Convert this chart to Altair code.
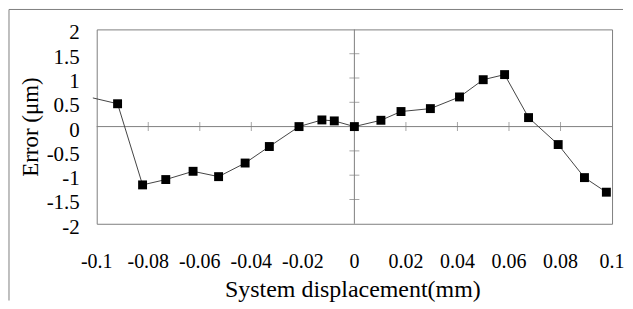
import altair as alt
import pandas as pd

# data
disp = [-0.0919, -0.0822, -0.0732, -0.0626, -0.0527, -0.0424, -0.0330, -0.0215,
        -0.0126, -0.0078, 0.0, 0.0103, 0.0181, 0.0295, 0.0408, 0.0500, 0.0583,
        0.0676, 0.0791, 0.0893, 0.0978]
err = [0.47, -1.20, -1.09, -0.92, -1.03, -0.75, -0.41, 0.0,
       0.137, 0.117, 0.0, 0.13, 0.31, 0.37, 0.61, 0.965, 1.07,
       0.185, -0.37, -1.05, -1.35]
# the line continues out of the plot on the left
lead_x = [-0.1015]
lead_y = [0.59]

x_ticks = [-0.1, -0.08, -0.06, -0.04, -0.02, 0, 0.02, 0.04, 0.06, 0.08, 0.1]
x_labels = ["-0.1", "-0.08", "-0.06", "-0.04", "-0.02", "0", "0.02", "0.04",
            "0.06", "0.08", "0.1"]
y_ticks = [-2, -1.5, -1, -0.5, 0, 0.5, 1, 1.5, 2]
y_labels = ["-2", "-1.5", "-1", "-0.5", "0", "0.5", "1", "1.5", "2"]
x_inner = [-0.08, -0.06, -0.04, -0.02, 0.02, 0.04, 0.06, 0.08]
y_inner = [-1.5, -1, -0.5, 0.5, 1, 1.5]
x_title = "System displacement(mm)"
y_title = "Error (μm)"

pts = pd.DataFrame({"x": disp, "y": err})
line_df = pd.DataFrame({"x": lead_x + disp, "y": lead_y + err})
xt = pd.DataFrame({"x": x_inner, "y": [0] * len(x_inner)})
yt = pd.DataFrame({"x": [0] * len(y_inner), "y": y_inner})
xl = pd.DataFrame({"x": x_ticks, "t": x_labels})
yl = pd.DataFrame({"y": y_ticks, "t": y_labels})
zero = pd.DataFrame({"z": [0]})

FONT = "Liberation Serif"
GRAY = "#808080"

xs = alt.Scale(domain=[-0.1, 0.1], nice=False, zero=False)
ys = alt.Scale(domain=[-2, 2], nice=False, zero=False)
X = lambda f: alt.X(f, scale=xs, axis=None)
Y = lambda f: alt.Y(f, scale=ys, axis=None)

line = alt.Chart(line_df).mark_line(color="#444444", strokeWidth=1).encode(
    x=X("x:Q"), y=Y("y:Q"), order=alt.Order("x:Q"))
points = alt.Chart(pts).mark_point(shape="square", filled=True, color="black",
                                   size=80, opacity=1).encode(
    x=X("x:Q"), y=Y("y:Q"))

hrule = alt.Chart(zero).mark_rule(color=GRAY, strokeWidth=1).encode(y=Y("z:Q"))
vrule = alt.Chart(zero).mark_rule(color=GRAY, strokeWidth=1).encode(x=X("z:Q"))
xtick = alt.Chart(xt).mark_tick(color=GRAY, orient="vertical", size=9,
                                thickness=1).encode(x=X("x:Q"), y=Y("y:Q"))
ytick = alt.Chart(yt).mark_tick(color=GRAY, orient="horizontal", size=10,
                                thickness=1).encode(x=X("x:Q"), y=Y("y:Q"))

xlab = alt.Chart(xl).mark_text(font=FONT, fontSize=20, color="black",
                               align="center", baseline="middle").encode(
    x=X("x:Q"), y=alt.value(233), text="t:N")
ylab = alt.Chart(yl).mark_text(font=FONT, fontSize=21, color="black",
                               align="right", baseline="middle", dy=4).encode(
    x=alt.value(-17), y=Y("y:Q"), text="t:N")
xtitle = alt.Chart(zero).mark_text(font=FONT, fontSize=24, color="black",
                                   align="center", baseline="alphabetic",
                                   text=x_title).encode(
    x=alt.value(257), y=alt.value(268))
ytitle = alt.Chart(zero).mark_text(font=FONT, fontSize=23, color="black",
                                   align="center", baseline="middle",
                                   angle=270, text=y_title).encode(
    x=alt.value(-66), y=alt.value(98))

frame_top = alt.Chart(zero).mark_rule(color=GRAY, strokeWidth=1).encode(
    x=alt.value(-88), x2=alt.value(528), y=alt.value(-20))
frame_left = alt.Chart(zero).mark_rule(color=GRAY, strokeWidth=1).encode(
    x=alt.value(-88), y=alt.value(-20), y2=alt.value(272))

chart = alt.layer(frame_top, frame_left, hrule, vrule, xtick, ytick, line, points,
                  xlab, ylab, xtitle, ytitle).properties(
    width=517, height=195, padding=0
).configure_view(stroke=GRAY, strokeWidth=1)

chart.save("out.html", embed_options={"renderer": "svg", "actions": False})
